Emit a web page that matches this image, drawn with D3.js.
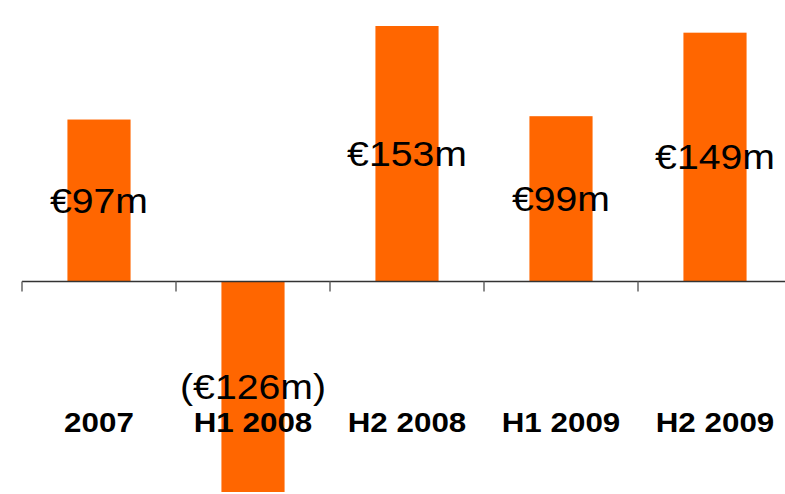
<!DOCTYPE html>
<html>
<head>
<meta charset="utf-8">
<script src="https://cdn.jsdelivr.net/npm/d3@7"></script>
<style>
  body { margin: 0; background: #fff; }
  svg { display: block; }
</style>
</head>
<body>
<script>
const periods = ["2007", "H1 2008", "H2 2008", "H1 2009", "H2 2009"];
const results = [97, -126, 153, 99, 149];
const resultLabels = ["€97m", "(€126m)", "€153m", "€99m", "€149m"];

const width = 785;
const height = 494;

const x = d3.scaleBand()
    .domain(periods)
    .range([22, 792])
    .paddingInner(0.59)
    .paddingOuter(0.295);

const y = d3.scaleLinear()
    .domain([-126, 153])
    .range([492, 26]);

const svg = d3.select("body")
    .append("svg")
    .attr("width", width)
    .attr("height", height);

// bars
svg.selectAll("rect.bar")
    .data(results)
    .enter().append("rect")
    .attr("class", "bar")
    .attr("x", (d, i) => x(periods[i]))
    .attr("width", x.bandwidth())
    .attr("y", d => y(Math.max(0, d)))
    .attr("height", d => Math.abs(y(d) - y(0)))
    .attr("fill", "#FF6600");

// axis line + ticks on band boundaries
const step = x.step();
const edges = d3.range(periods.length + 1).map(i => 22 + i * step);

svg.append("line")
    .attr("x1", 22).attr("x2", width)
    .attr("y1", y(0)).attr("y2", y(0))
    .attr("stroke", "#333")
    .attr("stroke-width", 1.5);

svg.selectAll("line.tick")
    .data(edges)
    .enter().append("line")
    .attr("class", "tick")
    .attr("x1", d => d).attr("x2", d => d)
    .attr("y1", y(0)).attr("y2", y(0) + 10)
    .attr("stroke", "#666")
    .attr("stroke-width", 1.5);

// value labels (slightly wide type, like the original)
svg.selectAll("text.value")
    .data(results)
    .enter().append("text")
    .attr("class", "value")
    .attr("transform", (d, i) => {
        const cx = x(periods[i]) + x.bandwidth() / 2;
        const cy = (y(d) + y(0)) / 2;
        return `translate(${cx},${cy}) scale(1.12,1)`;
    })
    .attr("dy", "0.35em")
    .attr("text-anchor", "middle")
    .style("font-family", "'Liberation Sans', Arial, sans-serif")
    .style("font-size", "35px")
    .style("fill", "#000")
    .text((d, i) => resultLabels[i]);

// category labels
svg.selectAll("text.period")
    .data(periods)
    .enter().append("text")
    .attr("class", "period")
    .attr("transform", d => `translate(${x(d) + x.bandwidth() / 2},432) scale(1.12,1)`)
    .attr("text-anchor", "middle")
    .style("font-family", "'Liberation Sans', Arial, sans-serif")
    .style("font-weight", "bold")
    .style("font-size", "28px")
    .style("fill", "#000")
    .text(d => d);
</script>
</body>
</html>
